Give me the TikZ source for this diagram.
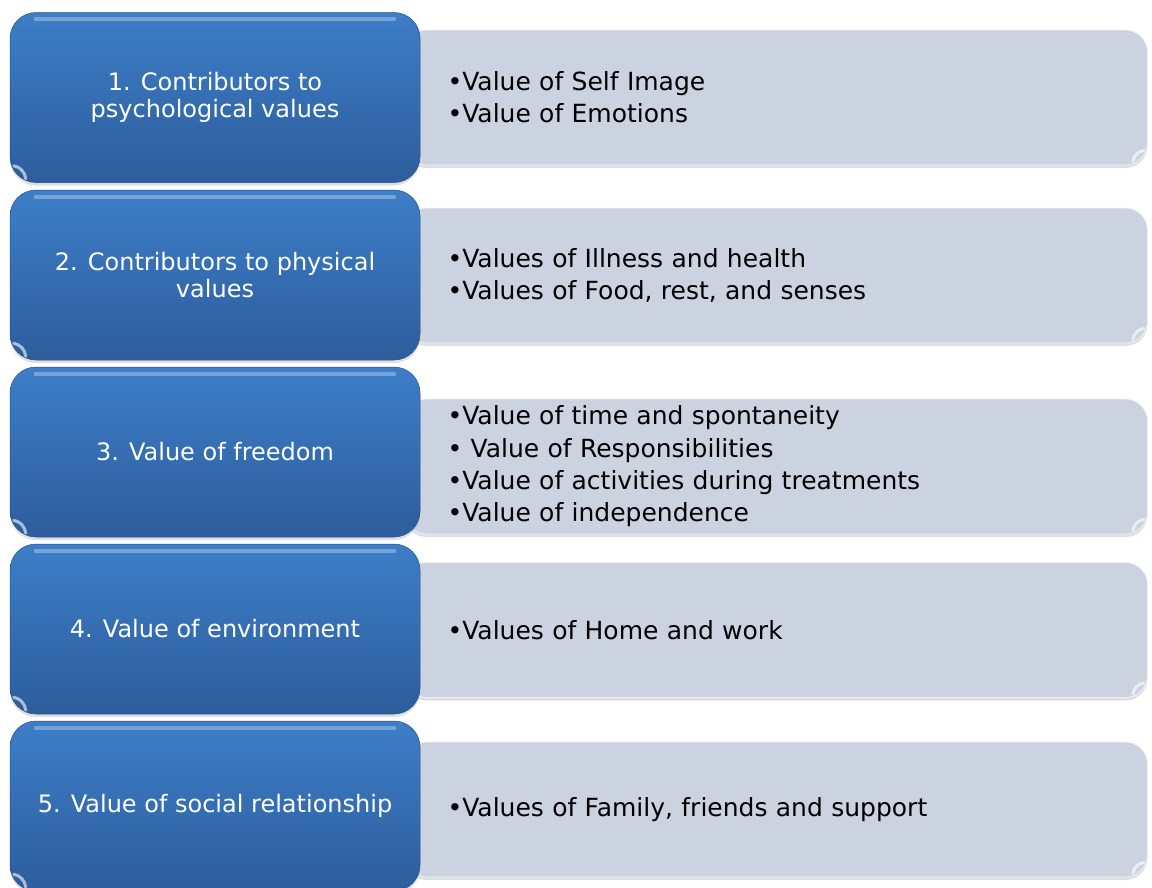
\documentclass[tikz,border=0pt]{standalone}
\usepackage{fontspec}
\setmainfont{DejaVu Sans}
\usetikzlibrary{shadows}
\definecolor{headblue}{RGB}{61,126,200}
\definecolor{headdark}{RGB}{45,93,156}
\definecolor{listgray}{RGB}{203,210,224}

\tikzset{
  headbox/.style={rounded corners=26pt, minimum width=410pt, minimum height=170pt,
    top color=headblue, bottom color=headdark, draw=headdark!85!black, line width=0.5pt,
    text=white, align=center, font=\fontsize{24}{27.5}\selectfont,
    drop shadow={shadow xshift=0pt, shadow yshift=-3pt, opacity=0.25}},
  listbox/.style={rounded corners=22pt, minimum height=135pt, text width=657pt,
    inner xsep=43pt, fill=listgray, draw=white!70!listgray, line width=0.8pt,
    align=left, font=\fontsize{25}{32.3}\selectfont,
    drop shadow={shadow xshift=0pt, shadow yshift=-3pt, opacity=0.25}},
  gloss/.style={white, opacity=0.3, line width=4pt, line cap=round},
  gleam/.style={white, opacity=0.6, line width=3pt, line cap=round}
}

\begin{document}
\begin{tikzpicture}[x=1pt, y=-1pt]
    \useasboundingbox (0,0) rectangle (1152,887);

    % one row per group: gray list first, blue heading on top of it
    \foreach \i/\yh/\yl/\head/\items in {
        1/97.5/97.5/{1. Contributors to\\psychological values}/{\textbullet Value of Self Image\\\textbullet Value of Emotions},
        2/275/275.5/{2. Contributors to physical\\values}/{\textbullet Values of Illness and health\\\textbullet Values of Food, rest, and senses},
        3/452/466.5/{3. Value of freedom}/{\textbullet Value of time and spontaneity\\\textbullet{} Value of Responsibilities\\\textbullet Value of activities during treatments\\\textbullet Value of independence},
        4/629/630/{4. Value of environment}/{\textbullet Values of Home and work},
        5/806/809.5/{5. Value of social relationship}/{\textbullet Values of Family, friends and support}} {
        \node[listbox] (v\i) at (776,\yl) {\items};
        \node[headbox] (c\i) at (215,\yh) {\head};
        % light sheen along the top edge, gleam in the corners
        \draw[gloss] ([xshift=26pt, yshift=-7pt]c\i.north west) -- ([xshift=-26pt, yshift=-7pt]c\i.north east);
        \draw[gleam] ([shift={(4pt,17pt)}]c\i.south west) to[bend left=35] ([shift={(16pt,4pt)}]c\i.south west);
        \draw[gleam] ([shift={(-4pt,15pt)}]v\i.south east) to[bend right=35] ([shift={(-15pt,4pt)}]v\i.south east);
    }
\end{tikzpicture}
\end{document}
